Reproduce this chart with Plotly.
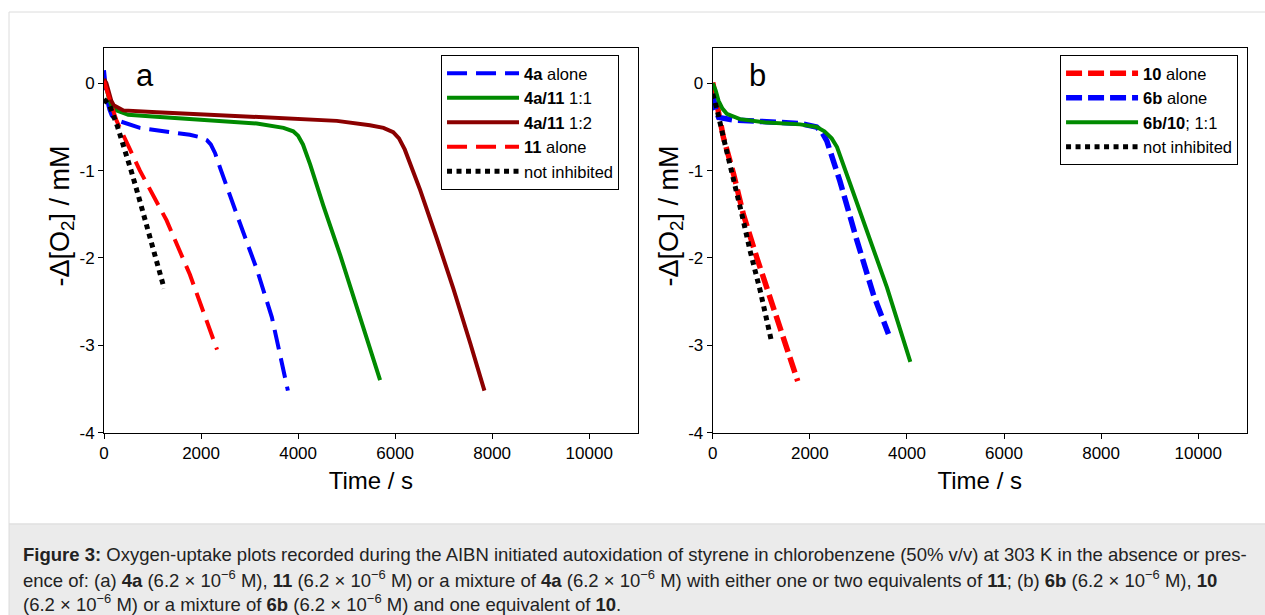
import plotly.graph_objects as go

# ---------------- data ----------------
# Panel a
a_4a_t = [0, 20, 60, 110, 160, 250, 400, 740, 1360, 1770, 2000, 2120, 2200, 2290, 2400, 2600, 2800, 3150, 3460, 3790]
a_4a_y = [0.15, 0.02, -0.18, -0.30, -0.37, -0.42, -0.45, -0.51, -0.56, -0.59, -0.62, -0.65, -0.70, -0.80, -0.98, -1.30, -1.60, -2.13, -2.68, -3.52]

a_411_11_t = [0, 50, 100, 150, 250, 500, 1000, 1770, 2460, 3150, 3700, 3900, 4000, 4100, 4250, 4520, 4870, 5210, 5690]
a_411_11_y = [0.0, -0.05, -0.17, -0.25, -0.31, -0.36, -0.38, -0.41, -0.43, -0.46, -0.51, -0.55, -0.60, -0.70, -0.93, -1.40, -1.97, -2.56, -3.40]

a_411_12_t = [0, 50, 100, 150, 200, 400, 1090, 2460, 3420, 4800, 5480, 5760, 5960, 6080, 6200, 6515, 6860, 7200, 7550, 7840]
a_411_12_y = [0.05, 0.0, -0.10, -0.20, -0.25, -0.31, -0.33, -0.37, -0.39, -0.43, -0.48, -0.51, -0.56, -0.63, -0.76, -1.22, -1.78, -2.35, -2.98, -3.52]

a_11_t = [0, 55, 150, 260, 740, 1290, 1770, 2330]
a_11_y = [0.03, -0.08, -0.25, -0.43, -1.00, -1.57, -2.19, -3.05]

a_ni_t = [0, 120, 275, 400, 570, 740, 910, 1090, 1240]
a_ni_y = [-0.18, -0.26, -0.49, -0.70, -1.02, -1.35, -1.69, -2.01, -2.35]

# Panel b
b_10_t = [0, 80, 220, 430, 630, 910, 1250, 1530, 1750]
b_10_y = [0.01, -0.20, -0.62, -1.04, -1.50, -2.00, -2.57, -3.07, -3.41]

b_6b_t = [0, 60, 120, 430, 1110, 1800, 2140, 2250, 2350, 2620, 2970, 3310, 3620]
b_6b_y = [-0.12, -0.30, -0.39, -0.42, -0.44, -0.46, -0.50, -0.56, -0.66, -1.12, -1.80, -2.42, -2.87]

b_6b10_t = [0, 60, 120, 200, 290, 560, 1110, 1800, 2140, 2300, 2450, 2560, 2830, 3180, 3590, 4070]
b_6b10_y = [0.0, -0.08, -0.20, -0.29, -0.35, -0.41, -0.45, -0.47, -0.50, -0.55, -0.63, -0.73, -1.15, -1.69, -2.34, -3.19]

b_ni_t = [0, 80, 220, 430, 600, 770, 980, 1200]
b_ni_y = [-0.12, -0.28, -0.62, -1.08, -1.50, -1.92, -2.38, -2.93]

x_tickvals = [0, 2000, 4000, 6000, 8000, 10000]
x_ticktext = ["0", "2000", "4000", "6000", "8000", "10000"]
y_tickvals = [0, -1, -2, -3, -4]
y_ticktext = ["0", "-1", "-2", "-3", "-4"]

names_a = ["<b>4a</b> alone", "<b>4a/11</b> 1:1", "<b>4a/11</b> 1:2", "<b>11</b> alone", "not inhibited"]
names_b = ["<b>10</b> alone", "<b>6b</b> alone", "<b>6b/10</b>; 1:1", "not inhibited"]

y_title = "-Δ[O<sub>2</sub>] / mM"
x_title = "Time / s"
caption_lines = [
    "<b>Figure 3:</b> Oxygen-uptake plots recorded during the AIBN initiated autoxidation of styrene in chlorobenzene (50% v/v) at 303 K in the absence or pres-",
    "ence of: (a) <b>4a</b> (6.2 × 10<sup>−6</sup> M), <b>11</b> (6.2 × 10<sup>−6</sup> M) or a mixture of <b>4a</b> (6.2 × 10<sup>−6</sup> M) with either one or two equivalents of <b>11</b>; (b) <b>6b</b> (6.2 × 10<sup>−6</sup> M), <b>10</b>",
    "(6.2 × 10<sup>−6</sup> M) or a mixture of <b>6b</b> (6.2 × 10<sup>−6</sup> M) and one equivalent of <b>10</b>.",
]

# ---------------- figure ----------------
W, H = 1265, 626
FONT = "Liberation Sans, Arial, sans-serif"
BLUE, GREEN, DRED, RED, BLACK = "#0000ff", "#008a00", "#8b0000", "#ff0000", "#000000"

# screen-pixel -> paper fraction (compensates the capture's scaling)
def px(xs):
    return ((xs - 5) / 0.996) / W

def py(ys):
    return 1 - (ys / 0.982) / H

fig = go.Figure()

dash_a = "20px,9px"
dot = "5px,4.5px"
fig.add_trace(go.Scatter(x=a_4a_t, y=a_4a_y, mode="lines", name=names_a[0], line=dict(color=BLUE, width=4, dash=dash_a), xaxis="x", yaxis="y", legend="legend"))
fig.add_trace(go.Scatter(x=a_411_11_t, y=a_411_11_y, mode="lines", name=names_a[1], line=dict(color=GREEN, width=4), xaxis="x", yaxis="y", legend="legend"))
fig.add_trace(go.Scatter(x=a_411_12_t, y=a_411_12_y, mode="lines", name=names_a[2], line=dict(color=DRED, width=4), xaxis="x", yaxis="y", legend="legend"))
fig.add_trace(go.Scatter(x=a_11_t, y=a_11_y, mode="lines", name=names_a[3], line=dict(color=RED, width=4, dash=dash_a), xaxis="x", yaxis="y", legend="legend"))
fig.add_trace(go.Scatter(x=a_ni_t, y=a_ni_y, mode="lines", name=names_a[4], line=dict(color=BLACK, width=5, dash=dot), xaxis="x", yaxis="y", legend="legend"))

dash_b = "16px,6px"
fig.add_trace(go.Scatter(x=b_10_t, y=b_10_y, mode="lines", name=names_b[0], line=dict(color=RED, width=5.5, dash=dash_b), xaxis="x2", yaxis="y2", legend="legend2"))
fig.add_trace(go.Scatter(x=b_6b_t, y=b_6b_y, mode="lines", name=names_b[1], line=dict(color=BLUE, width=5.5, dash=dash_b), xaxis="x2", yaxis="y2", legend="legend2"))
fig.add_trace(go.Scatter(x=b_6b10_t, y=b_6b10_y, mode="lines", name=names_b[2], line=dict(color=GREEN, width=4), xaxis="x2", yaxis="y2", legend="legend2"))
fig.add_trace(go.Scatter(x=b_ni_t, y=b_ni_y, mode="lines", name=names_b[3], line=dict(color=BLACK, width=5, dash=dot), xaxis="x2", yaxis="y2", legend="legend2"))

common_x = dict(range=[0, 11000], tickvals=x_tickvals, ticktext=x_ticktext, showline=True, linecolor="black",
                linewidth=1, mirror=True, ticks="outside", ticklen=5, tickcolor="black", showgrid=False,
                zeroline=False, tickfont=dict(size=17, color="black", family=FONT),
                title=dict(text=x_title, font=dict(size=24, color="black", family=FONT), standoff=10))
common_y = dict(range=[-4, 0.4], tickvals=y_tickvals, ticktext=y_ticktext, showline=True, linecolor="black",
                linewidth=1, mirror=True, ticks="outside", ticklen=5, tickcolor="black", showgrid=False,
                zeroline=False, tickfont=dict(size=17, color="black", family=FONT))

ydom = [py(431.7), py(48.3)]
fig.update_layout(
    xaxis=dict(domain=[px(104), px(637.7)], anchor="y", **common_x),
    yaxis=dict(domain=ydom, anchor="x", **common_y),
    xaxis2=dict(domain=[px(712.7), px(1246.7)], anchor="y2", **common_x),
    yaxis2=dict(domain=ydom, anchor="x2", **common_y),
)

# y-axis titles
for xs in (62, 671):
    fig.add_annotation(text=y_title, xref="paper", yref="paper", x=px(xs), y=py(216), textangle=-90,
                       showarrow=False, font=dict(size=27, color="black", family=FONT),
                       xanchor="center", yanchor="middle")

leg_common = dict(bgcolor="white", bordercolor="black", borderwidth=1, font=dict(size=16.5, color="black", family=FONT),
                  xanchor="left", yanchor="top", itemwidth=72, tracegroupgap=0)
fig.update_layout(
    legend=dict(x=px(441), y=py(55), **leg_common),
    legend2=dict(x=px(1060), y=py(55), **leg_common),
)

# frame and caption background
fig.add_shape(type="rect", xref="paper", yref="paper", x0=px(9), x1=px(1280), y0=py(523), y1=py(12),
              line=dict(color="#dcdcdc", width=1), fillcolor="rgba(0,0,0,0)", layer="below")
fig.add_shape(type="rect", xref="paper", yref="paper", x0=px(9), x1=px(1280), y0=py(640), y1=py(523),
              line=dict(color="#dcdcdc", width=1), fillcolor="#ebebeb", layer="below")

# panel letters
fig.add_annotation(text="a", xref="paper", yref="paper", x=px(145), y=py(75), showarrow=False,
                   font=dict(size=31, color="black", family=FONT), xanchor="center", yanchor="middle")
fig.add_annotation(text="b", xref="paper", yref="paper", x=px(757), y=py(75), showarrow=False,
                   font=dict(size=31, color="black", family=FONT), xanchor="center", yanchor="middle")

# caption
for i, line in enumerate(caption_lines):
    fig.add_annotation(text=line, xref="paper", yref="paper", x=px(21), y=py(553 + 24.5 * i), showarrow=False,
                       font=dict(size=18.5, color="#222222", family=FONT), xanchor="left", yanchor="middle", align="left")

fig.update_layout(width=W, height=H, margin=dict(l=0, r=0, t=0, b=0), paper_bgcolor="white",
                  plot_bgcolor="white", showlegend=True, font=dict(family=FONT, color="black"))

post = ("document.documentElement.style.overflow='hidden';"
        "document.body.style.overflow='hidden';document.body.style.margin='0';")
fig.write_html("out.html", config={"displayModeBar": False}, post_script=post)
